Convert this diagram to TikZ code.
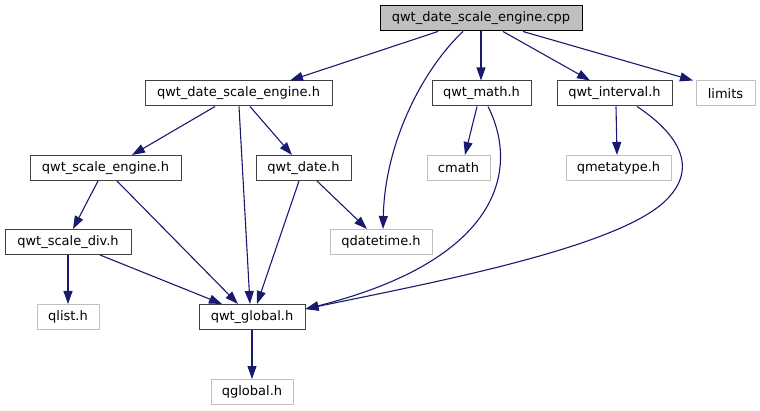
\documentclass[tikz,border=0pt]{standalone}
\usepackage{fontspec}
\setmainfont{DejaVu Sans}
\usetikzlibrary{arrows.meta}
\definecolor{edgeblue}{HTML}{191970}
\definecolor{extgray}{HTML}{BFBFBF}
\definecolor{nodeborder}{HTML}{404040}
\begin{document}
\begin{tikzpicture}[x=1pt,y=-1pt,
  box/.style={rectangle,draw=nodeborder,fill=white,line width=1pt,inner sep=0pt,minimum height=25pt,font=\fontsize{13}{15}\selectfont,text=black},
  ext/.style={box,draw=extgray},
  mainbox/.style={box,draw=black,fill=extgray},
  dep/.style={draw=edgeblue,line width=1.1pt,-{Triangle[length=13pt,width=9pt]},arrows={-{Triangle[length=13pt,width=9pt,fill=edgeblue]}}}
]
\useasboundingbox (0,0) rectangle (760,411);
\node[mainbox,minimum width=202pt] (cpp) at (481,18.5) {qwt\_date\_scale\_engine.cpp};
\node[box,minimum width=187pt] (dse) at (238.5,93.5) {qwt\_date\_scale\_engine.h};
\node[box,minimum width=99pt] (math) at (481.5,93.5) {qwt\_math.h};
\node[box,minimum width=115pt] (interval) at (614.5,93.5) {qwt\_interval.h};
\node[ext,minimum width=59pt] (limits) at (725.5,93.5) {limits};
\node[box,minimum width=151pt] (se) at (105.5,168) {qwt\_scale\_engine.h};
\node[box,minimum width=95pt] (date) at (303.5,168) {qwt\_date.h};
\node[ext,minimum width=63pt] (cmath) at (458.5,168) {cmath};
\node[ext,minimum width=105pt] (qmeta) at (618.5,168) {qmetatype.h};
\node[ext,minimum width=102pt] (qdt) at (381,242) {qdatetime.h};
\node[box,minimum width=126pt] (div) at (68,242) {qwt\_scale\_div.h};
\node[ext,minimum width=62pt] (qlist) at (68,317) {qlist.h};
\node[box,minimum width=106pt] (global) at (252,317) {qwt\_global.h};
\node[ext,minimum width=82pt] (qglobal) at (252,392) {qglobal.h};

\draw[dep] ([xshift=-43pt]cpp.south) -- ([xshift=51.5pt]dse.north);
\draw[dep] ([xshift=-18pt]cpp.south) .. controls (425,67) and (385,140) .. ([xshift=2pt]qdt.north);
\draw[dep] (cpp.south) -- (cpp.south |- math.north);
\draw[dep] ([xshift=22pt]cpp.south) -- ([xshift=-24.5pt]interval.north);
\draw[dep] ([xshift=42pt]cpp.south) -- ([xshift=-32.5pt]limits.north);
\draw[dep] ([xshift=-23.5pt]dse.south) -- ([xshift=26.5pt]se.north);
\draw[dep] ([xshift=0.5pt]dse.south) -- ([xshift=-2pt]global.north);
\draw[dep] ([xshift=11.5pt]dse.south) -- ([xshift=-11.5pt]date.north);
\draw[dep] ([xshift=-7.5pt]se.south) -- ([xshift=5pt]div.north);
\draw[dep] ([xshift=11.5pt]se.south) -- ([xshift=-14pt]global.north);
\draw[dep] ([xshift=-4.5pt]date.south) -- ([xshift=5pt]global.north);
\draw[dep] ([xshift=13.5pt]date.south) -- ([xshift=-14pt]qdt.north);
\draw[dep] (div.south) -- (qlist.north);
\draw[dep] ([xshift=32pt]div.south) -- ([xshift=-30pt]global.north);
\draw[dep] (global.south) -- (qglobal.north);
\draw[dep] ([xshift=-4.5pt]math.south) -- ([xshift=6.5pt]cmath.north);
\draw[dep] ([xshift=6.5pt]math.south) .. controls (520,170) and (500,260) .. ([yshift=8pt]global.east);
\draw[dep] ([xshift=1.5pt]interval.south) -- ([xshift=-1.5pt]qmeta.north);
\draw[dep] ([xshift=22.5pt]interval.south) .. controls (680,135) and (700,170) .. (663,203) .. controls (610,250) and (420,285) .. ([yshift=8pt]global.east);
\end{tikzpicture}
\end{document}
